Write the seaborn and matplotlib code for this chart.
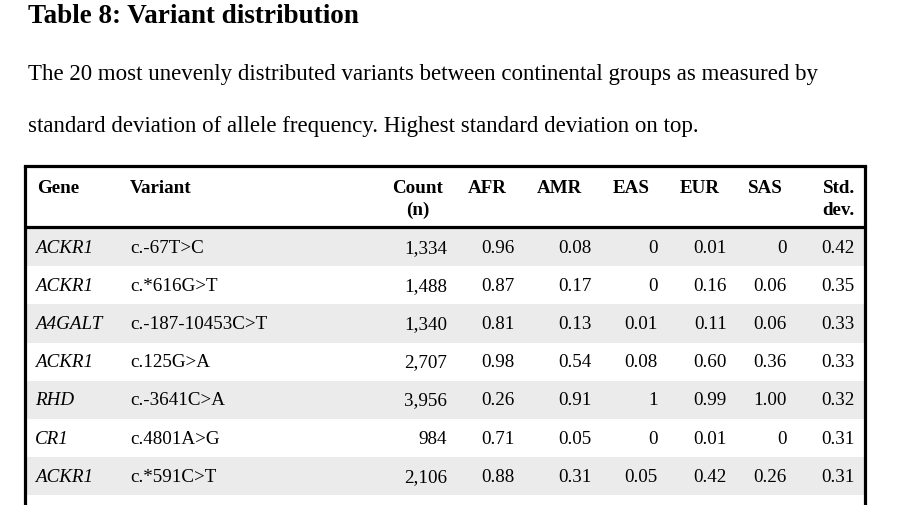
import matplotlib.pyplot as plt
import seaborn as sns

# Table text
title = 'Table 8: Variant distribution'
caption = ['The 20 most unevenly distributed variants between continental groups as measured by',
           'standard deviation of allele frequency. Highest standard deviation on top.']
header = ['Gene', 'Variant', 'Count\n(n)', 'AFR', 'AMR', 'EAS', 'EUR', 'SAS', 'Std.\ndev.']

# Table data (one entry per row)
genes = ['ACKR1', 'ACKR1', 'A4GALT', 'ACKR1', 'RHD', 'CR1', 'ACKR1']
variants = ['c.-67T>C', 'c.*616G>T', 'c.-187-10453C>T', 'c.125G>A',
            'c.-3641C>A', 'c.4801A>G', 'c.*591C>T']
counts = [1334, 1488, 1340, 2707, 3956, 984, 2106]
afr = ['0.96', '0.87', '0.81', '0.98', '0.26', '0.71', '0.88']
amr = ['0.08', '0.17', '0.13', '0.54', '0.91', '0.05', '0.31']
eas = ['0', '0', '0.01', '0.08', '1', '0', '0.05']
eur = ['0.01', '0.16', '0.11', '0.60', '0.99', '0.01', '0.42']
sas = ['0', '0.06', '0.06', '0.36', '1.00', '0', '0.26']
std_dev = ['0.42', '0.35', '0.33', '0.33', '0.32', '0.31', '0.31']

sns.set_theme(style='white')
plt.rcParams['font.family'] = ['Liberation Serif', 'DejaVu Serif']
plt.rcParams['text.color'] = 'black'

fig = plt.figure(figsize=(9.03, 5.06), dpi=100)
ax = fig.add_axes([0, 0, 1, 1])
ax.set_xlim(0, 903)
ax.set_ylim(506, 0)
ax.axis('off')

# title and caption
ax.text(28, 23, title, fontsize=19.5, fontweight='bold', va='baseline')
for i, line in enumerate(caption):
    ax.text(28, 80 + 52 * i, line, fontsize=16.45, va='baseline')

# table geometry (pixels)
left, right, top = 25.5, 865, 166.5
head_bottom = 227.5
row_h = 38.2
fs = 13.7

# header
head_x = [37, 130, 418, 468, 537, 613, 680, 748, 855]
head_ha = ['left', 'left', 'center', 'left', 'left', 'left', 'left', 'left', 'right']
for x, ha, lab in zip(head_x, head_ha, header):
    for j, part in enumerate(lab.split('\n')):
        ax.text(x, 193 + 22 * j, part, fontsize=fs, fontweight='bold',
                ha=ha, va='baseline')

# body rows
freq_cols = [afr, amr, eas, eur, sas, std_dev]
freq_x = [515, 592, 658, 727, 787, 855]
for i in range(len(genes) + 1):
    y0 = head_bottom + 1.5 + row_h * i
    if i % 2 == 0 and i < len(genes):
        ax.axhspan(y0, y0 + row_h, xmin=left / 903, xmax=right / 903,
                   color='#ebebeb', lw=0, zorder=0)
    if i >= len(genes):
        continue
    yb = y0 + row_h / 2 + 4.5
    ax.text(35, yb, genes[i], fontsize=fs, style='italic', va='baseline')
    ax.text(130, yb, variants[i], fontsize=fs, va='baseline')
    ax.text(447, yb, f'{counts[i]:,}', fontsize=fs, ha='right', va='baseline')
    for x, col in zip(freq_x, freq_cols):
        ax.text(x, yb, col[i], fontsize=fs, ha='right', va='baseline')

# borders
ax.plot([left, right], [top, top], color='black', lw=2.3, solid_capstyle='projecting')
ax.plot([left, right], [head_bottom, head_bottom], color='black', lw=2.3)
ax.plot([left, left], [top, 510], color='black', lw=2.3)
ax.plot([right, right], [top, 510], color='black', lw=2.3)

fig.savefig('out.png', dpi=100)
